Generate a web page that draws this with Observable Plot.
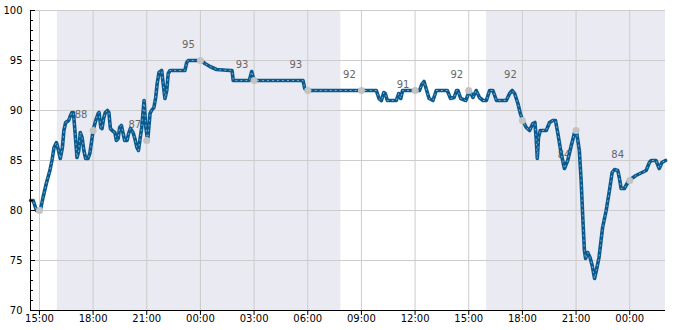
<!DOCTYPE html>
<html>
<head>
<meta charset="utf-8">
<script src="https://cdn.jsdelivr.net/npm/d3@7"></script>
<script src="https://cdn.jsdelivr.net/npm/@observablehq/plot@0.6"></script>
<style>
  html, body { margin: 0; padding: 0; background: #fff; }
  #chart { width: 685px; height: 330px; }
</style>
</head>
<body>
<div id="chart"></div>
<script>
// Clock times of the measured series (day rolls over when the clock goes back)
const clockTimes = [
  "14:30","14:39","14:50","15:03","15:12","15:23","15:35","15:42","15:49","15:57",
  "16:04","16:10","16:17","16:22","16:28","16:38","16:44","16:49","16:54","16:59",
  "17:06","17:12","17:17","17:23","17:29","17:35","17:43","17:49","17:54","18:00",
  "18:06","18:11","18:17","18:20","18:26","18:30","18:36","18:41","18:48","18:53",
  "18:58","19:04","19:13","19:18","19:24","19:29","19:35","19:40","19:46","19:54",
  "19:59","20:05","20:14","20:20","20:27","20:32","20:43","20:51","20:57","21:03",
  "21:11","21:16","21:24","21:30","21:35","21:41","21:50","21:55","22:01","22:07",
  "22:12","22:18","23:08","23:14","23:19","00:02","00:15","00:32","00:54","01:39",
  "01:46","01:50","02:44","02:52","02:57","03:03","05:44","05:50","05:56","09:50",
  "09:59","10:07","10:15","10:20","10:27","10:57","11:05","11:12","11:18","12:15",
  "12:22","12:30","12:39","12:47","13:00","13:11","13:48","13:59","14:11","14:19",
  "14:24","14:33","14:50","15:03","15:14","15:25","15:36","15:48","15:59","16:10",
  "16:21","16:33","17:06","17:17","17:26","17:34","17:45","17:53","18:01","18:13",
  "18:24","18:35","18:42","18:46","18:50","18:54","19:00","19:20","19:31","19:42",
  "19:51","19:59","20:10","20:21","20:32","20:44","20:55","21:02","21:11","21:17",
  "21:23","21:28","21:32","21:39","21:47","21:54","22:02","22:08","22:17","22:29",
  "22:41","22:52","23:01","23:09","23:20","23:25","23:31","23:42","23:57","00:21",
  "00:55","01:06","01:12","01:28","01:39","01:48","02:00"
];
const values = [
  81,81,80,80,81.3,82.7,84,85,86.3,86.8,
  86,85.2,86.3,88,88.8,89,89.5,89.8,89.8,88,
  85.3,86,87.8,87.3,86,85.2,85.2,85.7,86.7,88,
  88.7,89.2,89.7,89.8,88.3,88.2,89.3,89.8,90,89.8,
  88.2,88,87.8,87,87.2,88.3,88.5,87.8,87,87,
  87.7,88.2,87.8,87.2,86.3,86,88.3,91,88.3,87,
  89.7,90,90.3,91.3,92.7,93.8,94,92.7,91.2,92,
  93.7,94,94,94.8,95,95,94.7,94.4,94.1,94,
  94,93,93,93.9,93.3,93,93,92.2,92,92,
  91.2,91,91.8,91.7,91,91,91.7,91.2,92,92,
  92.6,92.9,92,91.2,91,92,92,91.2,91.3,92,
  92,91.2,91,92,91.3,92,91.3,91,91,92,
  92,91,91,91.7,92,91.7,90.7,89.7,89,88.3,
  88,88.7,88.8,87.3,85.2,87.3,88,88,88.8,89,
  89,87.7,85.7,84.2,85,86.5,87.8,87.8,86,83,
  79,76,75.2,75.8,75.3,74.5,73.2,74,75.3,78.3,
  80,82,83.8,84.1,84,83.3,82.2,82.2,83,83.5,
  84,84.8,85,85,84.2,84.8,85
];

// Three-hourly markers and their labels
const markerTimes = [
  "2024-01-01T15:00","2024-01-01T18:00","2024-01-01T21:00","2024-01-02T00:00",
  "2024-01-02T03:00","2024-01-02T06:00","2024-01-02T09:00","2024-01-02T12:00",
  "2024-01-02T15:00","2024-01-02T18:00","2024-01-02T21:00","2024-01-03T00:00"
];
const markerValues = [80, 88, 87, 95, 93, 92, 92, 92, 92, 89, 88, 83];
const markerLabelValues = [null, 88, 87, 95, 93, 93, 92, 91, 92, 92, 84, 84];

// Night (shaded) periods
const nightStarts = ["2024-01-01T16:00", "2024-01-02T16:00"];
const nightEnds   = ["2024-01-02T07:51", "2024-01-03T02:00"];

const xStart = "2024-01-01T14:30";
const xEnd   = "2024-01-03T02:00";
const yMajorTicks = [70, 75, 80, 85, 90, 95, 100];
const yMinorTicks = d3.range(70, 101, 1);

// ---- build tables ----
const toDate = s => new Date(s + ":00Z");
const startDay = Date.UTC(2024, 0, 1);
let day = 0, prev = -1;
const series = clockTimes.map((c, i) => {
  const [h, m] = c.split(":").map(Number);
  const mins = h * 60 + m;
  if (mins < prev) day++;
  prev = mins;
  return { t: new Date(startDay + (day * 1440 + mins) * 60000), v: values[i] };
});
const markers = markerTimes.map((s, i) => ({ t: toDate(s), v: markerValues[i], lv: markerLabelValues[i] }));
const labels = markers.filter(d => d.lv != null);
const nights = nightStarts.map((s, i) => ({ x1: toDate(s), x2: toDate(nightEnds[i]) }));
const xTicks = markers.map(d => d.t);
const x0 = toDate(xStart), x1 = toDate(xEnd);

const chart = Plot.plot({
  width: 685,
  height: 330,
  marginLeft: 30,
  marginRight: 20,
  marginTop: 10,
  marginBottom: 20,
  style: { fontFamily: "DejaVu Sans", fontSize: "10px", background: "#fff", color: "#000" },
  x: { type: "utc", domain: [x0, x1] },
  y: { domain: [70, 100] },
  marks: [
    Plot.rect(nights, { x1: "x1", x2: "x2", y1: 70, y2: 100, fill: "#eaeaf2" }),
    Plot.gridX({ ticks: xTicks, stroke: "#cccccc", strokeOpacity: 1 }),
    Plot.gridY({ ticks: yMajorTicks.slice(1), stroke: "#cccccc", strokeOpacity: 1 }),
    Plot.text(labels, { x: "t", y: "lv", text: d => String(d.lv), dx: -12, dy: -16, fill: "#666", fontSize: 10 }),
    Plot.line(series, { x: "t", y: "v", stroke: "#0b5a8e", strokeWidth: 3.6, strokeLinejoin: "round" }),
    Plot.line(series, { x: "t", y: "v", stroke: "#8fb6d6", strokeWidth: 0.9, strokeDasharray: "1,4" }),
    Plot.dot(markers, { x: "t", y: "v", r: 3.5, fill: "#c3c3c3" }),
    Plot.axisY({ ticks: yMajorTicks, tickSize: 0, tickPadding: 8, label: null, fontSize: 10 }),
    Plot.axisY({ ticks: yMajorTicks, tickSize: 5, dx: 5, tickFormat: () => "", label: null }),
    Plot.axisY({ ticks: yMinorTicks, tickSize: 3, dx: 3, tickFormat: () => "", label: null }),
    Plot.axisX({ ticks: xTicks, tickSize: 5, tickFormat: () => "", label: null }),
    Plot.axisX({ ticks: xTicks, tickSize: 0, tickPadding: 4, tickFormat: d3.utcFormat("%H:%M"), label: null, fontSize: 10 }),
    Plot.ruleX([x0], { stroke: "#000" }),
    Plot.ruleY([70], { stroke: "#000" })
  ]
});
document.getElementById("chart").appendChild(chart);
</script>
</body>
</html>
